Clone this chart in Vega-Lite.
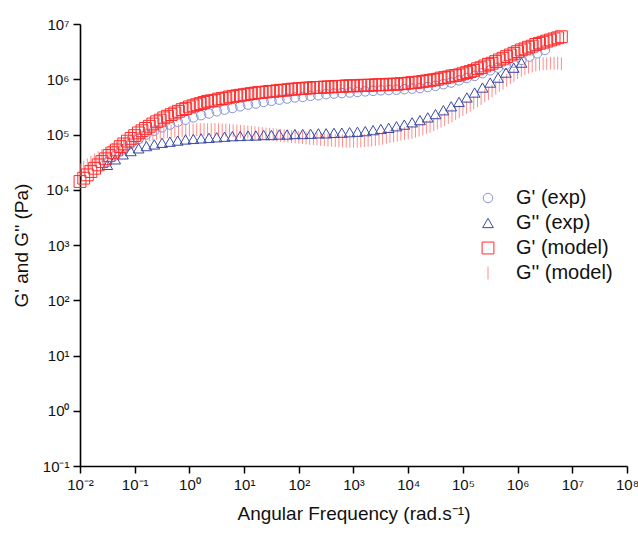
{
  "$schema": "https://vega.github.io/schema/vega-lite/v6.json",
  "autosize": {"type": "none"},
  "padding": {"left": 80, "top": 24, "right": 11, "bottom": 71},
  "width": 547,
  "height": 442,
  "background": "white",
  "config": {
    "view": {"stroke": null},
    "font": "Liberation Sans",
    "axis": {
      "grid": false,
      "domainColor": "#000000",
      "domainWidth": 1.6,
      "tickColor": "#000000",
      "tickWidth": 1.5,
      "tickSize": 7,
      "labelFont": "Liberation Sans",
      "labelFontSize": 15,
      "labelColor": "#111111",
      "titleFont": "Liberation Sans",
      "titleFontSize": 19,
      "titleFontWeight": "normal",
      "titleColor": "#111111"
    }
  },
  "data": {"values": [
    {"s":"G'' (model)","w":1e-2,"g":2.29e4},{"s":"G'' (model)","w":1.17e-2,"g":2.57e4},{"s":"G'' (model)","w":1.36e-2,"g":2.82e4},{"s":"G'' (model)","w":1.58e-2,"g":3.16e4},{"s":"G'' (model)","w":1.85e-2,"g":3.47e4},{"s":"G'' (model)","w":2.15e-2,"g":3.80e4},{"s":"G'' (model)","w":2.51e-2,"g":4.17e4},{"s":"G'' (model)","w":2.93e-2,"g":4.57e4},{"s":"G'' (model)","w":3.41e-2,"g":5.01e4},{"s":"G'' (model)","w":3.98e-2,"g":5.37e4},{"s":"G'' (model)","w":4.64e-2,"g":5.75e4},{"s":"G'' (model)","w":5.41e-2,"g":6.31e4},{"s":"G'' (model)","w":6.31e-2,"g":6.76e4},{"s":"G'' (model)","w":7.36e-2,"g":7.24e4},{"s":"G'' (model)","w":8.58e-2,"g":7.59e4},
    {"s":"G'' (model)","w":1e-1,"g":8.13e4},{"s":"G'' (model)","w":1.17e-1,"g":8.51e4},{"s":"G'' (model)","w":1.36e-1,"g":8.91e4},{"s":"G'' (model)","w":1.58e-1,"g":9.33e4},{"s":"G'' (model)","w":1.85e-1,"g":9.77e4},{"s":"G'' (model)","w":2.15e-1,"g":1.02e5},{"s":"G'' (model)","w":2.51e-1,"g":1.05e5},{"s":"G'' (model)","w":2.93e-1,"g":1.07e5},{"s":"G'' (model)","w":3.41e-1,"g":1.10e5},{"s":"G'' (model)","w":3.98e-1,"g":1.12e5},{"s":"G'' (model)","w":4.64e-1,"g":1.14e5},{"s":"G'' (model)","w":5.41e-1,"g":1.15e5},{"s":"G'' (model)","w":6.31e-1,"g":1.17e5},{"s":"G'' (model)","w":7.36e-1,"g":1.18e5},{"s":"G'' (model)","w":8.58e-1,"g":1.19e5},
    {"s":"G'' (model)","w":1,"g":1.20e5},{"s":"G'' (model)","w":1.17,"g":1.21e5},{"s":"G'' (model)","w":1.36,"g":1.22e5},{"s":"G'' (model)","w":1.58,"g":1.23e5},{"s":"G'' (model)","w":1.85,"g":1.23e5},{"s":"G'' (model)","w":2.15,"g":1.23e5},{"s":"G'' (model)","w":2.51,"g":1.23e5},{"s":"G'' (model)","w":2.93,"g":1.23e5},{"s":"G'' (model)","w":3.41,"g":1.22e5},{"s":"G'' (model)","w":3.98,"g":1.21e5},{"s":"G'' (model)","w":4.64,"g":1.20e5},{"s":"G'' (model)","w":5.41,"g":1.19e5},{"s":"G'' (model)","w":6.31,"g":1.17e5},{"s":"G'' (model)","w":7.36,"g":1.16e5},{"s":"G'' (model)","w":8.58,"g":1.14e5},
    {"s":"G'' (model)","w":10,"g":1.12e5},{"s":"G'' (model)","w":11.7,"g":1.11e5},{"s":"G'' (model)","w":13.6,"g":1.09e5},{"s":"G'' (model)","w":15.8,"g":1.07e5},{"s":"G'' (model)","w":18.5,"g":1.06e5},{"s":"G'' (model)","w":21.5,"g":1.04e5},{"s":"G'' (model)","w":25.1,"g":1.02e5},{"s":"G'' (model)","w":29.3,"g":1.01e5},{"s":"G'' (model)","w":34.1,"g":9.93e4},{"s":"G'' (model)","w":39.8,"g":9.77e4},{"s":"G'' (model)","w":46.4,"g":9.62e4},{"s":"G'' (model)","w":54.1,"g":9.47e4},{"s":"G'' (model)","w":63.1,"g":9.33e4},{"s":"G'' (model)","w":73.6,"g":9.19e4},{"s":"G'' (model)","w":85.8,"g":9.05e4},
    {"s":"G'' (model)","w":100,"g":8.91e4},{"s":"G'' (model)","w":117,"g":8.78e4},{"s":"G'' (model)","w":136,"g":8.64e4},{"s":"G'' (model)","w":158,"g":8.51e4},{"s":"G'' (model)","w":185,"g":8.38e4},{"s":"G'' (model)","w":215,"g":8.26e4},{"s":"G'' (model)","w":251,"g":8.13e4},{"s":"G'' (model)","w":293,"g":8.01e4},{"s":"G'' (model)","w":341,"g":7.89e4},{"s":"G'' (model)","w":398,"g":7.85e4},{"s":"G'' (model)","w":464,"g":7.76e4},{"s":"G'' (model)","w":541,"g":7.68e4},{"s":"G'' (model)","w":631,"g":7.59e4},{"s":"G'' (model)","w":736,"g":7.55e4},{"s":"G'' (model)","w":858,"g":7.52e4},
    {"s":"G'' (model)","w":1e3,"g":7.52e4},{"s":"G'' (model)","w":1.17e3,"g":7.55e4},{"s":"G'' (model)","w":1.36e3,"g":7.62e4},{"s":"G'' (model)","w":1.58e3,"g":7.76e4},{"s":"G'' (model)","w":1.85e3,"g":7.85e4},{"s":"G'' (model)","w":2.15e3,"g":7.98e4},{"s":"G'' (model)","w":2.51e3,"g":8.13e4},{"s":"G'' (model)","w":2.93e3,"g":8.35e4},{"s":"G'' (model)","w":3.41e3,"g":8.55e4},{"s":"G'' (model)","w":3.98e3,"g":8.91e4},{"s":"G'' (model)","w":4.64e3,"g":9.20e4},{"s":"G'' (model)","w":5.41e3,"g":9.50e4},{"s":"G'' (model)","w":6.31e3,"g":9.77e4},{"s":"G'' (model)","w":7.36e3,"g":1.01e5},{"s":"G'' (model)","w":8.58e3,"g":1.04e5},
    {"s":"G'' (model)","w":1e4,"g":1.07e5},{"s":"G'' (model)","w":1.17e4,"g":1.10e5},{"s":"G'' (model)","w":1.36e4,"g":1.15e5},{"s":"G'' (model)","w":1.58e4,"g":1.20e5},{"s":"G'' (model)","w":1.85e4,"g":1.26e5},{"s":"G'' (model)","w":2.15e4,"g":1.35e5},{"s":"G'' (model)","w":2.51e4,"g":1.41e5},{"s":"G'' (model)","w":2.93e4,"g":1.51e5},{"s":"G'' (model)","w":3.41e4,"g":1.62e5},{"s":"G'' (model)","w":3.98e4,"g":1.74e5},{"s":"G'' (model)","w":4.64e4,"g":1.86e5},{"s":"G'' (model)","w":5.41e4,"g":2.04e5},{"s":"G'' (model)","w":6.31e4,"g":2.19e5},{"s":"G'' (model)","w":7.36e4,"g":2.40e5},{"s":"G'' (model)","w":8.58e4,"g":2.57e5},
    {"s":"G'' (model)","w":1e5,"g":2.82e5},{"s":"G'' (model)","w":1.17e5,"g":3.09e5},{"s":"G'' (model)","w":1.36e5,"g":3.39e5},{"s":"G'' (model)","w":1.58e5,"g":3.72e5},{"s":"G'' (model)","w":1.85e5,"g":4.07e5},{"s":"G'' (model)","w":2.15e5,"g":4.47e5},{"s":"G'' (model)","w":2.51e5,"g":5.01e5},{"s":"G'' (model)","w":2.93e5,"g":5.50e5},{"s":"G'' (model)","w":3.41e5,"g":6.17e5},{"s":"G'' (model)","w":3.98e5,"g":6.92e5},{"s":"G'' (model)","w":4.64e5,"g":7.76e5},{"s":"G'' (model)","w":5.41e5,"g":8.51e5},{"s":"G'' (model)","w":6.31e5,"g":9.55e5},{"s":"G'' (model)","w":7.36e5,"g":1.07e6},{"s":"G'' (model)","w":8.58e5,"g":1.17e6},
    {"s":"G'' (model)","w":1e6,"g":1.32e6},{"s":"G'' (model)","w":1.17e6,"g":1.45e6},{"s":"G'' (model)","w":1.36e6,"g":1.55e6},{"s":"G'' (model)","w":1.58e6,"g":1.66e6},{"s":"G'' (model)","w":1.85e6,"g":1.74e6},{"s":"G'' (model)","w":2.15e6,"g":1.82e6},{"s":"G'' (model)","w":2.51e6,"g":1.86e6},{"s":"G'' (model)","w":2.93e6,"g":1.91e6},{"s":"G'' (model)","w":3.41e6,"g":1.91e6},{"s":"G'' (model)","w":3.98e6,"g":1.95e6},{"s":"G'' (model)","w":4.64e6,"g":1.95e6},{"s":"G'' (model)","w":5.41e6,"g":1.95e6},{"s":"G'' (model)","w":6.31e6,"g":1.91e6},

    {"s":"G' (exp)","w":3.16e-2,"g":3.16e4},{"s":"G' (exp)","w":4.40e-2,"g":4.17e4},{"s":"G' (exp)","w":6.11e-2,"g":5.37e4},{"s":"G' (exp)","w":8.49e-2,"g":6.76e4},{"s":"G' (exp)","w":1.18e-1,"g":8.32e4},{"s":"G' (exp)","w":1.64e-1,"g":1.0e5},{"s":"G' (exp)","w":2.28e-1,"g":1.17e5},
    {"s":"G' (exp)","w":3.16e-1,"g":1.35e5},{"s":"G' (exp)","w":4.40e-1,"g":1.51e5},{"s":"G' (exp)","w":6.11e-1,"g":1.70e5},{"s":"G' (exp)","w":8.49e-1,"g":1.86e5},{"s":"G' (exp)","w":1.18,"g":2.04e5},{"s":"G' (exp)","w":1.64,"g":2.24e5},{"s":"G' (exp)","w":2.28,"g":2.40e5},
    {"s":"G' (exp)","w":3.16,"g":2.63e5},{"s":"G' (exp)","w":4.40,"g":2.82e5},{"s":"G' (exp)","w":6.11,"g":3.02e5},{"s":"G' (exp)","w":8.49,"g":3.24e5},{"s":"G' (exp)","w":11.8,"g":3.47e5},{"s":"G' (exp)","w":16.4,"g":3.63e5},{"s":"G' (exp)","w":22.8,"g":3.89e5},
    {"s":"G' (exp)","w":31.6,"g":4.07e5},{"s":"G' (exp)","w":44.0,"g":4.27e5},{"s":"G' (exp)","w":61.1,"g":4.47e5},{"s":"G' (exp)","w":84.9,"g":4.68e5},{"s":"G' (exp)","w":118,"g":4.79e5},{"s":"G' (exp)","w":164,"g":5.01e5},{"s":"G' (exp)","w":228,"g":5.13e5},
    {"s":"G' (exp)","w":316,"g":5.37e5},{"s":"G' (exp)","w":440,"g":5.50e5},{"s":"G' (exp)","w":611,"g":5.62e5},{"s":"G' (exp)","w":849,"g":5.75e5},{"s":"G' (exp)","w":1.18e3,"g":5.89e5},{"s":"G' (exp)","w":1.64e3,"g":6.03e5},{"s":"G' (exp)","w":2.28e3,"g":6.17e5},
    {"s":"G' (exp)","w":3.16e3,"g":6.31e5},{"s":"G' (exp)","w":4.40e3,"g":6.38e5},{"s":"G' (exp)","w":6.11e3,"g":6.46e5},{"s":"G' (exp)","w":8.49e3,"g":6.61e5},{"s":"G' (exp)","w":1.18e4,"g":6.76e5},{"s":"G' (exp)","w":1.64e4,"g":6.92e5},{"s":"G' (exp)","w":2.28e4,"g":7.24e5},
    {"s":"G' (exp)","w":3.16e4,"g":7.59e5},{"s":"G' (exp)","w":4.40e4,"g":8.13e5},{"s":"G' (exp)","w":6.11e4,"g":8.71e5},{"s":"G' (exp)","w":8.49e4,"g":9.55e5},{"s":"G' (exp)","w":1.18e5,"g":1.05e6},{"s":"G' (exp)","w":1.64e5,"g":1.15e6},{"s":"G' (exp)","w":2.28e5,"g":1.29e6},
    {"s":"G' (exp)","w":3.16e5,"g":1.45e6},{"s":"G' (exp)","w":4.40e5,"g":1.62e6},{"s":"G' (exp)","w":6.11e5,"g":1.82e6},{"s":"G' (exp)","w":8.49e5,"g":2.0e6},{"s":"G' (exp)","w":1.18e6,"g":2.24e6},{"s":"G' (exp)","w":1.64e6,"g":2.57e6},{"s":"G' (exp)","w":2.28e6,"g":2.95e6},
    {"s":"G' (exp)","w":3.16e6,"g":3.39e6},

    {"s":"G'' (exp)","w":3.16e-2,"g":2.82e4},{"s":"G'' (exp)","w":4.40e-2,"g":3.55e4},{"s":"G'' (exp)","w":6.11e-2,"g":4.37e4},{"s":"G'' (exp)","w":8.49e-2,"g":5.01e4},{"s":"G'' (exp)","w":1.18e-1,"g":5.62e4},{"s":"G'' (exp)","w":1.64e-1,"g":6.17e4},{"s":"G'' (exp)","w":2.28e-1,"g":6.61e4},
    {"s":"G'' (exp)","w":3.16e-1,"g":7.08e4},{"s":"G'' (exp)","w":4.40e-1,"g":7.41e4},{"s":"G'' (exp)","w":6.11e-1,"g":7.76e4},{"s":"G'' (exp)","w":8.49e-1,"g":8.13e4},{"s":"G'' (exp)","w":1.18,"g":8.32e4},{"s":"G'' (exp)","w":1.64,"g":8.51e4},{"s":"G'' (exp)","w":2.28,"g":8.71e4},
    {"s":"G'' (exp)","w":3.16,"g":8.91e4},{"s":"G'' (exp)","w":4.40,"g":9.12e4},{"s":"G'' (exp)","w":6.11,"g":9.33e4},{"s":"G'' (exp)","w":8.49,"g":9.40e4},{"s":"G'' (exp)","w":11.8,"g":9.55e4},{"s":"G'' (exp)","w":16.4,"g":9.60e4},{"s":"G'' (exp)","w":22.8,"g":9.77e4},
    {"s":"G'' (exp)","w":31.6,"g":9.80e4},{"s":"G'' (exp)","w":44.0,"g":1.0e5},{"s":"G'' (exp)","w":61.1,"g":1.0e5},{"s":"G'' (exp)","w":84.9,"g":1.02e5},{"s":"G'' (exp)","w":118,"g":1.02e5},{"s":"G'' (exp)","w":164,"g":1.03e5},{"s":"G'' (exp)","w":228,"g":1.05e5},
    {"s":"G'' (exp)","w":316,"g":1.05e5},{"s":"G'' (exp)","w":440,"g":1.07e5},{"s":"G'' (exp)","w":611,"g":1.08e5},{"s":"G'' (exp)","w":849,"g":1.10e5},{"s":"G'' (exp)","w":1.18e3,"g":1.12e5},{"s":"G'' (exp)","w":1.64e3,"g":1.15e5},{"s":"G'' (exp)","w":2.28e3,"g":1.20e5},
    {"s":"G'' (exp)","w":3.16e3,"g":1.26e5},{"s":"G'' (exp)","w":4.40e3,"g":1.32e5},{"s":"G'' (exp)","w":6.11e3,"g":1.41e5},{"s":"G'' (exp)","w":8.49e3,"g":1.51e5},{"s":"G'' (exp)","w":1.18e4,"g":1.66e5},{"s":"G'' (exp)","w":1.64e4,"g":1.82e5},{"s":"G'' (exp)","w":2.28e4,"g":2.04e5},
    {"s":"G'' (exp)","w":3.16e4,"g":2.34e5},{"s":"G'' (exp)","w":4.40e4,"g":2.75e5},{"s":"G'' (exp)","w":6.11e4,"g":3.24e5},{"s":"G'' (exp)","w":8.49e4,"g":3.89e5},{"s":"G'' (exp)","w":1.18e5,"g":4.68e5},{"s":"G'' (exp)","w":1.64e5,"g":5.75e5},{"s":"G'' (exp)","w":2.28e5,"g":7.08e5},
    {"s":"G'' (exp)","w":3.16e5,"g":8.71e5},{"s":"G'' (exp)","w":4.40e5,"g":1.07e6},{"s":"G'' (exp)","w":6.11e5,"g":1.32e6},{"s":"G'' (exp)","w":8.49e5,"g":1.62e6},{"s":"G'' (exp)","w":1.18e6,"g":2.0e6},

    {"s":"G' (model)","w":1e-2,"g":1.41e4},{"s":"G' (model)","w":1.17e-2,"g":1.62e4},{"s":"G' (model)","w":1.36e-2,"g":1.86e4},{"s":"G' (model)","w":1.58e-2,"g":2.14e4},{"s":"G' (model)","w":1.85e-2,"g":2.45e4},{"s":"G' (model)","w":2.15e-2,"g":2.82e4},{"s":"G' (model)","w":2.51e-2,"g":3.24e4},{"s":"G' (model)","w":2.93e-2,"g":3.63e4},{"s":"G' (model)","w":3.41e-2,"g":4.17e4},{"s":"G' (model)","w":3.98e-2,"g":4.68e4},{"s":"G' (model)","w":4.64e-2,"g":5.25e4},{"s":"G' (model)","w":5.41e-2,"g":6.03e4},{"s":"G' (model)","w":6.31e-2,"g":6.76e4},{"s":"G' (model)","w":7.36e-2,"g":7.59e4},{"s":"G' (model)","w":8.58e-2,"g":8.51e4},
    {"s":"G' (model)","w":1e-1,"g":9.55e4},{"s":"G' (model)","w":1.17e-1,"g":1.07e5},{"s":"G' (model)","w":1.36e-1,"g":1.17e5},{"s":"G' (model)","w":1.58e-1,"g":1.29e5},{"s":"G' (model)","w":1.85e-1,"g":1.41e5},{"s":"G' (model)","w":2.15e-1,"g":1.55e5},{"s":"G' (model)","w":2.51e-1,"g":1.70e5},{"s":"G' (model)","w":2.93e-1,"g":1.82e5},{"s":"G' (model)","w":3.41e-1,"g":2.0e5},{"s":"G' (model)","w":3.98e-1,"g":2.14e5},{"s":"G' (model)","w":4.64e-1,"g":2.29e5},{"s":"G' (model)","w":5.41e-1,"g":2.45e5},{"s":"G' (model)","w":6.31e-1,"g":2.63e5},{"s":"G' (model)","w":7.36e-1,"g":2.82e5},{"s":"G' (model)","w":8.58e-1,"g":2.95e5},
    {"s":"G' (model)","w":1,"g":3.16e5},{"s":"G' (model)","w":1.17,"g":3.31e5},{"s":"G' (model)","w":1.36,"g":3.47e5},{"s":"G' (model)","w":1.58,"g":3.63e5},{"s":"G' (model)","w":1.85,"g":3.80e5},{"s":"G' (model)","w":2.15,"g":3.98e5},{"s":"G' (model)","w":2.51,"g":4.07e5},{"s":"G' (model)","w":2.93,"g":4.17e5},{"s":"G' (model)","w":3.41,"g":4.37e5},{"s":"G' (model)","w":3.98,"g":4.47e5},{"s":"G' (model)","w":4.64,"g":4.57e5},{"s":"G' (model)","w":5.41,"g":4.79e5},{"s":"G' (model)","w":6.31,"g":4.90e5},{"s":"G' (model)","w":7.36,"g":5.01e5},{"s":"G' (model)","w":8.58,"g":5.13e5},
    {"s":"G' (model)","w":10,"g":5.25e5},{"s":"G' (model)","w":11.7,"g":5.37e5},{"s":"G' (model)","w":13.6,"g":5.50e5},{"s":"G' (model)","w":15.8,"g":5.62e5},{"s":"G' (model)","w":18.5,"g":5.75e5},{"s":"G' (model)","w":21.5,"g":5.78e5},{"s":"G' (model)","w":25.1,"g":5.89e5},{"s":"G' (model)","w":29.3,"g":6.03e5},{"s":"G' (model)","w":34.1,"g":6.05e5},{"s":"G' (model)","w":39.8,"g":6.17e5},{"s":"G' (model)","w":46.4,"g":6.31e5},{"s":"G' (model)","w":54.1,"g":6.33e5},{"s":"G' (model)","w":63.1,"g":6.46e5},{"s":"G' (model)","w":73.6,"g":6.61e5},{"s":"G' (model)","w":85.8,"g":6.63e5},
    {"s":"G' (model)","w":100,"g":6.76e5},{"s":"G' (model)","w":117,"g":6.78e5},{"s":"G' (model)","w":136,"g":6.92e5},{"s":"G' (model)","w":158,"g":6.94e5},{"s":"G' (model)","w":185,"g":7.08e5},{"s":"G' (model)","w":215,"g":7.10e5},{"s":"G' (model)","w":251,"g":7.12e5},{"s":"G' (model)","w":293,"g":7.24e5},{"s":"G' (model)","w":341,"g":7.26e5},{"s":"G' (model)","w":398,"g":7.28e5},{"s":"G' (model)","w":464,"g":7.41e5},{"s":"G' (model)","w":541,"g":7.43e5},{"s":"G' (model)","w":631,"g":7.45e5},{"s":"G' (model)","w":736,"g":7.59e5},{"s":"G' (model)","w":858,"g":7.60e5},
    {"s":"G' (model)","w":1e3,"g":7.61e5},{"s":"G' (model)","w":1.17e3,"g":7.62e5},{"s":"G' (model)","w":1.36e3,"g":7.76e5},{"s":"G' (model)","w":1.58e3,"g":7.77e5},{"s":"G' (model)","w":1.85e3,"g":7.78e5},{"s":"G' (model)","w":2.15e3,"g":7.79e5},{"s":"G' (model)","w":2.51e3,"g":7.94e5},{"s":"G' (model)","w":2.93e3,"g":7.95e5},{"s":"G' (model)","w":3.41e3,"g":7.96e5},{"s":"G' (model)","w":3.98e3,"g":7.97e5},{"s":"G' (model)","w":4.64e3,"g":8.13e5},{"s":"G' (model)","w":5.41e3,"g":8.14e5},{"s":"G' (model)","w":6.31e3,"g":8.15e5},{"s":"G' (model)","w":7.36e3,"g":8.32e5},{"s":"G' (model)","w":8.58e3,"g":8.33e5},
    {"s":"G' (model)","w":1e4,"g":8.51e5},{"s":"G' (model)","w":1.17e4,"g":8.71e5},{"s":"G' (model)","w":1.36e4,"g":8.72e5},{"s":"G' (model)","w":1.58e4,"g":8.91e5},{"s":"G' (model)","w":1.85e4,"g":9.12e5},{"s":"G' (model)","w":2.15e4,"g":9.33e5},{"s":"G' (model)","w":2.51e4,"g":9.55e5},{"s":"G' (model)","w":2.93e4,"g":9.77e5},{"s":"G' (model)","w":3.41e4,"g":1.0e6},{"s":"G' (model)","w":3.98e4,"g":1.05e6},{"s":"G' (model)","w":4.64e4,"g":1.07e6},{"s":"G' (model)","w":5.41e4,"g":1.10e6},{"s":"G' (model)","w":6.31e4,"g":1.15e6},{"s":"G' (model)","w":7.36e4,"g":1.17e6},{"s":"G' (model)","w":8.58e4,"g":1.20e6},
    {"s":"G' (model)","w":1e5,"g":1.26e6},{"s":"G' (model)","w":1.17e5,"g":1.32e6},{"s":"G' (model)","w":1.36e5,"g":1.38e6},{"s":"G' (model)","w":1.58e5,"g":1.45e6},{"s":"G' (model)","w":1.85e5,"g":1.55e6},{"s":"G' (model)","w":2.15e5,"g":1.62e6},{"s":"G' (model)","w":2.51e5,"g":1.74e6},{"s":"G' (model)","w":2.93e5,"g":1.86e6},{"s":"G' (model)","w":3.41e5,"g":1.95e6},{"s":"G' (model)","w":3.98e5,"g":2.09e6},{"s":"G' (model)","w":4.64e5,"g":2.24e6},{"s":"G' (model)","w":5.41e5,"g":2.40e6},{"s":"G' (model)","w":6.31e5,"g":2.57e6},{"s":"G' (model)","w":7.36e5,"g":2.75e6},{"s":"G' (model)","w":8.58e5,"g":2.95e6},
    {"s":"G' (model)","w":1e6,"g":3.16e6},{"s":"G' (model)","w":1.17e6,"g":3.39e6},{"s":"G' (model)","w":1.36e6,"g":3.55e6},{"s":"G' (model)","w":1.58e6,"g":3.80e6},{"s":"G' (model)","w":1.85e6,"g":3.98e6},{"s":"G' (model)","w":2.15e6,"g":4.27e6},{"s":"G' (model)","w":2.51e6,"g":4.47e6},{"s":"G' (model)","w":2.93e6,"g":4.68e6},{"s":"G' (model)","w":3.41e6,"g":4.90e6},{"s":"G' (model)","w":3.98e6,"g":5.13e6},{"s":"G' (model)","w":4.64e6,"g":5.37e6},{"s":"G' (model)","w":5.41e6,"g":5.62e6},{"s":"G' (model)","w":6.31e6,"g":5.89e6}
  ]},
  "mark": {"type": "point", "filled": false, "strokeWidth": 1, "opacity": 1},
  "encoding": {
    "x": {
      "field": "w", "type": "quantitative",
      "scale": {"type": "log", "domain": [0.01, 100000000], "nice": false},
      "axis": {
        "title": "Angular Frequency (rad.s⁻¹)",
        "values": [0.01, 0.1, 1, 10, 100, 1000, 10000, 100000, 1000000, 10000000, 100000000],
        "labelExpr": "'10' + (datum.value < 0.9 ? '⁻' : '') + ['⁰','¹','²','³','⁴','⁵','⁶','⁷','⁸','⁹'][abs(round(log(datum.value) / LN10))]",
        "labelPadding": 4,
        "titlePadding": 12,
        "labelFlush": false,
        "labelOverlap": false
      }
    },
    "y": {
      "field": "g", "type": "quantitative",
      "scale": {"type": "log", "domain": [0.1, 10000000], "nice": false},
      "axis": {
        "title": "G' and G'' (Pa)",
        "values": [0.1, 1, 10, 100, 1000, 10000, 100000, 1000000, 10000000],
        "labelExpr": "'10' + (datum.value < 0.9 ? '⁻' : '') + ['⁰','¹','²','³','⁴','⁵','⁶','⁷','⁸','⁹'][abs(round(log(datum.value) / LN10))]",
        "labelPadding": 4,
        "titlePadding": 11,
        "labelFlush": false,
        "labelOverlap": false
      }
    },
    "color": {
      "field": "s", "type": "nominal",
      "scale": {
        "domain": ["G' (exp)", "G'' (exp)", "G' (model)", "G'' (model)"],
        "range": ["#8793d6", "#3a4aa6", "#ff2a2a", "#ff8c8c"]
      },
      "legend": {
        "title": null,
        "orient": "none",
        "legendX": 398,
        "legendY": 164,
        "labelFont": "Liberation Sans",
        "labelFontSize": 20,
        "labelColor": "#111111",
        "symbolSize": 90,
        "symbolStrokeWidth": 1,
        "rowPadding": 5,
        "labelOffset": 18
      }
    },
    "shape": {
      "field": "s", "type": "nominal",
      "scale": {
        "domain": ["G' (exp)", "G'' (exp)", "G' (model)", "G'' (model)"],
        "range": ["circle", "triangle-up", "square", "M0,-1L0,1"]
      }
    },
    "size": {
      "field": "s", "type": "nominal",
      "scale": {
        "domain": ["G' (exp)", "G'' (exp)", "G' (model)", "G'' (model)"],
        "range": [90, 165, 49, 100]
      },
      "legend": null
    }
  }
}
